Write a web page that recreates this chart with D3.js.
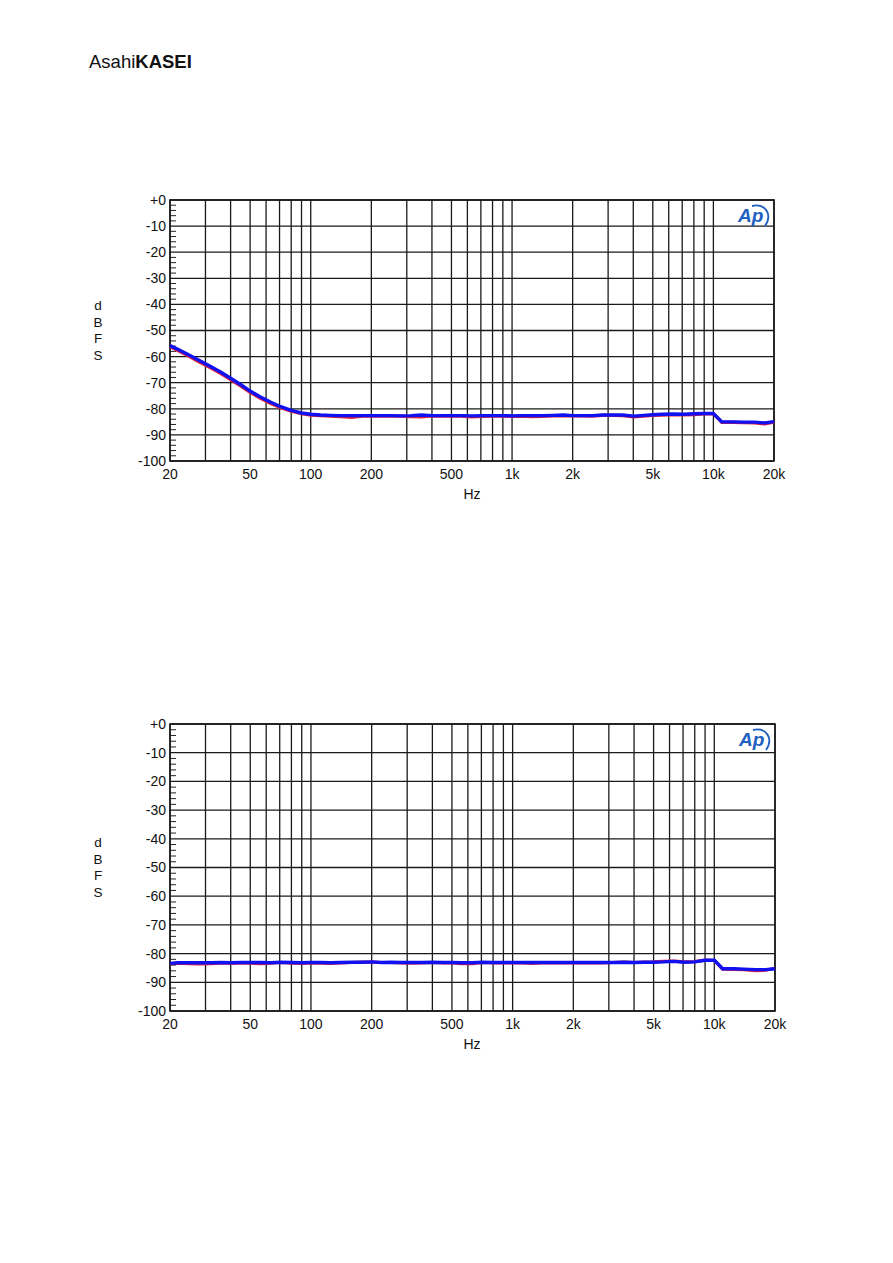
<!DOCTYPE html>
<html>
<head>
<meta charset="utf-8">
<script src="https://cdn.jsdelivr.net/npm/d3@7"></script>
<style>
  body { margin: 0; background: #fff; }
  svg { display: block; }
  text { font-family: Arial, "Liberation Sans", sans-serif; fill: #111; }
</style>
</head>
<body>
<div class="svg-container"></div>
<script>
// data
const freqs = [20, 22, 25, 28, 32, 36, 40, 45, 50, 56, 63, 71, 80, 90, 100, 112, 125, 140, 160, 180,
  200, 224, 250, 280, 315, 355, 400, 450, 500, 560, 630, 710, 800, 900, 1000, 1120, 1250, 1400, 1600, 1800,
  2000, 2240, 2500, 2800, 3150, 3550, 4000, 4500, 5000, 5600, 6300, 7100, 8000, 9000, 10000, 10500, 11000,
  12500, 14000, 16000, 18000, 20000];

// top chart
const topRch = [-55.8, -57.3, -59.5, -61.5, -63.9, -66.1, -68.3, -70.8, -73.2, -75.4, -77.4, -79.2, -80.6, -81.6, -82.1, -82.4, -82.5, -82.6, -82.6, -82.6,
  -82.6, -82.6, -82.6, -82.7, -82.6, -82.4, -82.6, -82.6, -82.6, -82.6, -82.7, -82.6, -82.6, -82.6, -82.7, -82.6, -82.6, -82.6, -82.5, -82.4,
  -82.6, -82.6, -82.6, -82.4, -82.4, -82.4, -82.8, -82.5, -82.3, -82.1, -82.0, -82.1, -81.9, -81.8, -81.8, -83.4, -85.0,
  -85.0, -85.1, -85.1, -85.4, -84.9];
const topLch = [-56.2, -57.8, -60.0, -62.1, -64.4, -66.6, -68.8, -71.3, -73.7, -75.9, -77.9, -79.6, -80.9, -81.9, -82.4, -82.6, -82.8, -83.0, -83.3, -82.8,
  -82.7, -82.8, -82.7, -82.8, -83.0, -83.1, -82.7, -82.8, -82.7, -82.8, -83.1, -82.9, -82.8, -82.8, -82.9, -82.8, -83.0, -82.9, -82.7, -82.6,
  -82.7, -82.7, -82.8, -82.5, -82.5, -82.6, -83.1, -82.8, -82.5, -82.4, -82.2, -82.3, -82.2, -82.0, -82.0, -83.6, -85.2,
  -85.2, -85.3, -85.4, -85.8, -85.1];

// bottom chart
const botRch = [-83.4, -83.2, -83.2, -83.2, -83.2, -83.1, -83.2, -83.1, -83.1, -83.1, -83.2, -83.0, -83.1, -83.2, -83.1, -83.1, -83.2, -83.1, -83.0, -83.0,
  -82.9, -83.1, -83.0, -83.1, -83.1, -83.1, -83.0, -83.1, -83.1, -83.2, -83.2, -83.0, -83.1, -83.1, -83.1, -83.1, -83.1, -83.1, -83.1, -83.1,
  -83.1, -83.1, -83.1, -83.1, -83.1, -83.0, -83.1, -83.0, -83.0, -82.9, -82.7, -83.0, -82.9, -82.3, -82.3, -83.8, -85.3,
  -85.3, -85.4, -85.6, -85.6, -85.3];
const botLch = [-83.6, -83.3, -83.5, -83.6, -83.5, -83.2, -83.4, -83.2, -83.3, -83.5, -83.3, -83.1, -83.3, -83.4, -83.2, -83.3, -83.4, -83.2, -83.1, -83.0,
  -83.0, -83.1, -83.1, -83.2, -83.3, -83.2, -83.1, -83.2, -83.2, -83.5, -83.5, -83.1, -83.2, -83.2, -83.2, -83.2, -83.4, -83.2, -83.2, -83.2,
  -83.2, -83.2, -83.2, -83.2, -83.1, -83.0, -83.1, -83.0, -82.9, -82.7, -82.6, -82.9, -82.8, -82.3, -82.4, -83.9, -85.4,
  -85.5, -85.6, -85.9, -85.8, -85.1];

const yTicks = [0, -10, -20, -30, -40, -50, -60, -70, -80, -90, -100];
const xGrid = [20, 30, 40, 50, 60, 70, 80, 90, 100, 200, 300, 400, 500, 600, 700, 800, 900,
  1000, 2000, 3000, 4000, 5000, 6000, 7000, 8000, 9000, 10000, 20000];
const xLabels = [20, 50, 100, 200, 500, 1000, 2000, 5000, 10000, 20000];
const yLabel = ['d', 'B', 'F', 'S'];

const svg = d3.select('.svg-container')
  .append('svg')
  .attr('width', 893)
  .attr('height', 1263);

// header logo
const logo = svg.append('text')
  .attr('x', 89)
  .attr('y', 68)
  .style('font-size', '18.5px');
logo.append('tspan').text('Asahi');
logo.append('tspan').attr('font-weight', 'bold').text('KASEI');

const fmtHz = d => d >= 1000 ? (d / 1000) + 'k' : d;
const fmtDb = d => d === 0 ? '+0' : d;

function drawChart(box, lch, rch) {
  const x = d3.scaleLog().domain([20, 20000]).range([box.left, box.right]);
  const y = d3.scaleLinear().domain([-100, 0]).range([box.bottom, box.top]);
  const g = svg.append('g');

  // grid
  g.selectAll('.vgrid')
    .data(xGrid)
    .enter().append('line')
    .attr('x1', d => x(d)).attr('x2', d => x(d))
    .attr('y1', box.top).attr('y2', box.bottom)
    .attr('stroke', '#1a1a1a').attr('stroke-width', 1.3);

  g.selectAll('.hgrid')
    .data(yTicks)
    .enter().append('line')
    .attr('x1', box.left).attr('x2', box.right)
    .attr('y1', d => y(d)).attr('y2', d => y(d))
    .attr('stroke', '#1a1a1a').attr('stroke-width', 1.3);

  // minor ticks every 2 dB
  g.selectAll('.minor')
    .data(d3.range(-98, 0, 2).filter(d => d % 10 !== 0))
    .enter().append('line')
    .attr('x1', box.left).attr('x2', box.left + 6)
    .attr('y1', d => y(d)).attr('y2', d => y(d))
    .attr('stroke', '#222').attr('stroke-width', 1);

  g.append('rect')
    .attr('x', box.left).attr('y', box.top)
    .attr('width', box.right - box.left).attr('height', box.bottom - box.top)
    .attr('fill', 'none').attr('stroke', '#1a1a1a').attr('stroke-width', 1.6);

  // tick labels
  g.selectAll('.ylab')
    .data(yTicks)
    .enter().append('text')
    .attr('x', box.left - 4)
    .attr('y', d => y(d))
    .attr('dy', '0.35em')
    .attr('text-anchor', 'end')
    .style('font-size', '14px')
    .text(fmtDb);

  g.selectAll('.xlab')
    .data(xLabels)
    .enter().append('text')
    .attr('x', d => x(d))
    .attr('y', box.bottom + 18)
    .attr('text-anchor', 'middle')
    .style('font-size', '14px')
    .text(fmtHz);

  g.append('text')
    .attr('x', 472)
    .attr('y', box.bottom + 38)
    .attr('text-anchor', 'middle')
    .style('font-size', '14px')
    .text('Hz');

  const mid = (box.top + box.bottom) / 2;
  g.selectAll('.dbfs')
    .data(yLabel)
    .enter().append('text')
    .attr('x', 98)
    .attr('y', (d, i) => mid - 25 + i * 16.5)
    .attr('dy', '0.35em')
    .attr('text-anchor', 'middle')
    .style('font-size', '13.5px')
    .text(d => d);

  // Ap logo
  const ap = g.append('g').attr('transform', `translate(${box.right - 38},${box.top + 4})`);
  ap.append('text')
    .attr('x', 2).attr('y', 18)
    .style('fill', '#2060c0')
    .style('font-size', '19px')
    .style('font-style', 'italic')
    .style('font-weight', 'bold')
    .text('Ap');
  ap.append('path')
    .attr('d', 'M16,2 C29,-1 37,10 29,22')
    .attr('fill', 'none')
    .attr('stroke', '#2060c0')
    .attr('stroke-width', 1.8);

  const line = d3.line()
    .x((d, i) => x(freqs[i]))
    .y(d => y(d));

  g.append('path')
    .datum(lch)
    .attr('d', line)
    .attr('fill', 'none')
    .attr('stroke', '#e0203a')
    .attr('stroke-width', 3.2);

  g.append('path')
    .datum(rch)
    .attr('d', line)
    .attr('fill', 'none')
    .attr('stroke', '#1010f0')
    .attr('stroke-width', 3.4);
}

drawChart({left: 170, right: 774, top: 200, bottom: 461}, topLch, topRch);
drawChart({left: 170, right: 775, top: 724, bottom: 1011}, botLch, botRch);
</script>
</body>
</html>
